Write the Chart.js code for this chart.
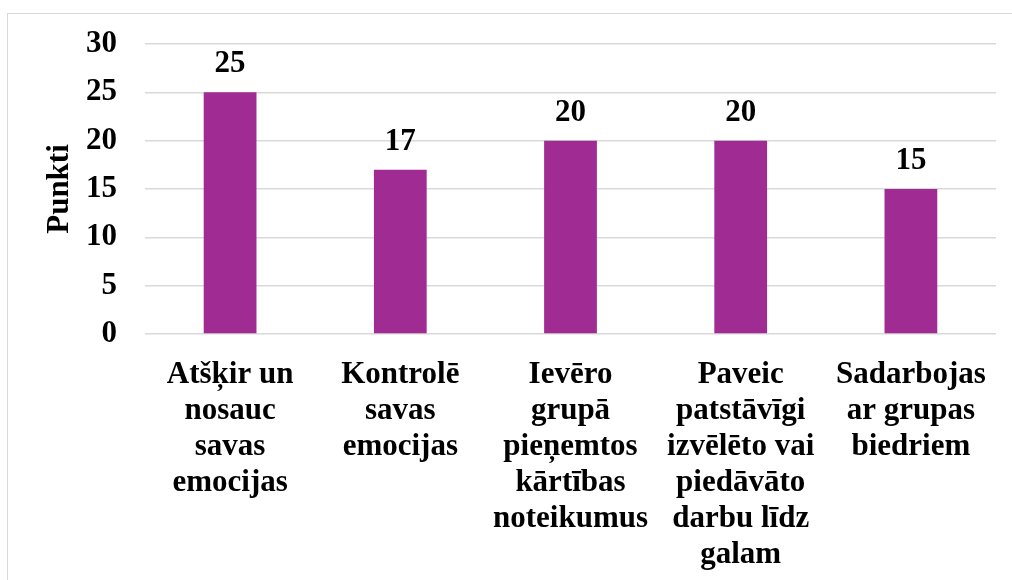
<!DOCTYPE html>
<html>
<head>
<meta charset="utf-8">
<script src="https://cdn.jsdelivr.net/npm/chart.js@4"></script>
<style>
  html, body { margin: 0; padding: 0; background: #fff; }
  #frame { position: absolute; left: 7px; top: 13px; width: 1010px; height: 580px; border: 1px solid #d9d9d9; box-sizing: border-box; }
  #wrap { position: absolute; left: 0; top: 0; width: 1012px; height: 580px; }
</style>
</head>
<body>
<div id="frame"></div>
<div id="wrap"><canvas id="chart" width="1012" height="580"></canvas></div>
<script>
// data
const categories = [
  ["Atšķir un", "nosauc", "savas", "emocijas"],
  ["Kontrolē", "savas", "emocijas"],
  ["Ievēro", "grupā", "pieņemtos", "kārtības", "noteikumus"],
  ["Paveic", "patstāvīgi", "izvēlēto vai", "piedāvāto", "darbu līdz", "galam"],
  ["Sadarbojas", "ar grupas", "biedriem"]
];
const points = [25, 17, 20, 20, 15];
const yTitle = "Punkti";

const serif = "'Liberation Serif', 'Times New Roman', serif";
const fontSize = 31;

// value labels above the bars
const valueLabels = {
  id: "valueLabels",
  afterDatasetsDraw(chart) {
    const ctx = chart.ctx;
    const meta = chart.getDatasetMeta(0);
    ctx.save();
    ctx.font = "bold " + fontSize + "px " + serif;
    ctx.fillStyle = "#000";
    ctx.textAlign = "center";
    ctx.textBaseline = "middle";
    meta.data.forEach((bar, i) => {
      ctx.fillText(points[i], bar.x, bar.y - 28);
    });
    ctx.restore();
  }
};

new Chart(document.getElementById("chart"), {
  type: "bar",
  data: {
    labels: categories,
    datasets: [{
      data: points,
      backgroundColor: "#a02b93",
      categoryPercentage: 1,
      barPercentage: 0.31
    }]
  },
  options: {
    responsive: false,
    animation: false,
    layout: { padding: { left: 20, top: 44, right: 16, bottom: 0 } },
    plugins: { legend: { display: false }, tooltip: { enabled: false } },
    scales: {
      x: {
        grid: { display: false, drawTicks: false },
        border: { display: false },
        ticks: {
          color: "#000",
          padding: 23,
          maxRotation: 0,
          autoSkip: false,
          font: { family: serif, size: fontSize, weight: "bold", lineHeight: 36 / fontSize }
        },
        afterFit(scale) { scale.height = 246; }
      },
      y: {
        min: 0,
        max: 30,
        grid: { color: "#d9d9d9", lineWidth: 1.5, drawTicks: false },
        border: { display: false },
        ticks: {
          stepSize: 5,
          color: "#000",
          padding: 28,
          font: { family: serif, size: fontSize, weight: "bold" }
        },
        title: {
          display: true,
          text: yTitle,
          color: "#000",
          padding: { top: 24, bottom: 0 },
          font: { family: serif, size: fontSize, weight: "bold", lineHeight: 1 }
        },
        afterFit(scale) {
          scale.width = 125;
          scale.paddingTop = 0;
          scale.paddingBottom = 0;
        }
      }
    }
  },
  plugins: [valueLabels]
});
</script>
</body>
</html>
